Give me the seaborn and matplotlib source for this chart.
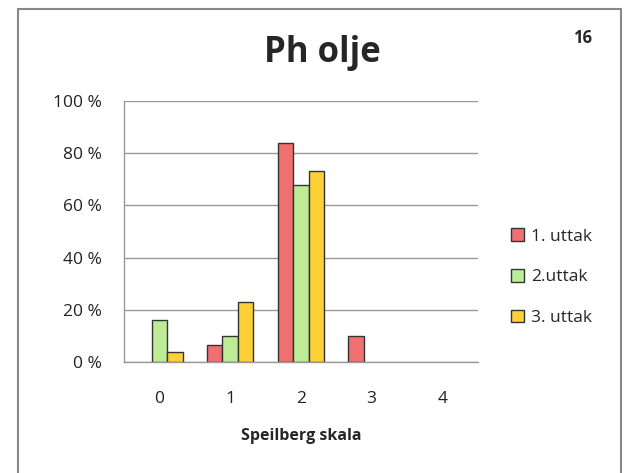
import numpy as np
import pandas as pd
import seaborn as sns
import matplotlib.pyplot as plt
from matplotlib.patches import Rectangle
from matplotlib.ticker import FixedLocator

# chart data
categories = ['0', '1', '2', '3', '4']
series_names = ['1. uttak', '2.uttak', '3. uttak']
uttak_1 = [0.0, 6.5, 83.9, 9.7, 0.0]
uttak_2 = [16.1, 9.7, 67.7, 0.0, 0.0]
uttak_3 = [3.8, 23.1, 73.1, 0.0, 0.0]
y_ticks = [0, 20, 40, 60, 80, 100]
y_tick_labels = ['0 %', '20 %', '40 %', '60 %', '80 %', '100 %']
colors = ['#F07072', '#BDEB96', '#FDD037']

df = pd.DataFrame({
    'Speilberg skala': categories * 3,
    'value': uttak_1 + uttak_2 + uttak_3,
    'serie': [s for s in series_names for _ in categories],
})

sns.set_theme(style='white')
plt.rcParams['font.family'] = ['Open Sans', 'DejaVu Sans']

fig = plt.figure(figsize=(6.3, 4.73), dpi=100)
ax = fig.add_axes([0.1968, 0.2353, 0.5615, 0.5505])

sns.barplot(data=df, x='Speilberg skala', y='value', hue='serie',
            palette=colors, saturation=1, width=0.66, gap=0, edgecolor='#333333',
            linewidth=1, ax=ax, legend=True)

handles, labels = ax.get_legend_handles_labels()
ax.legend_.remove()

# empty bars get no outline
for bar in ax.containers:
    for rect in bar:
        if rect.get_height() == 0:
            rect.set_linewidth(0)

ax.set_ylim(0, 100)
ax.set_xlim(-0.5, len(categories) - 0.5)
ax.set_yticks(y_ticks)
ax.set_yticklabels(y_tick_labels, fontsize=12.5, color='#222222')
ax.set_xticks(range(len(categories)))
ax.set_xticklabels(categories, fontsize=12.5, color='#222222')
ax.xaxis.set_minor_locator(FixedLocator(np.arange(-0.5, len(categories), 1)))
ax.tick_params(axis='x', which='major', length=0, pad=21)
ax.tick_params(axis='x', which='minor', length=6, color='#999999', width=1, direction='out')
ax.tick_params(axis='y', length=8, color='#999999', width=1, direction='out', pad=8)
ax.yaxis.grid(True, color='#999999', linewidth=1)
ax.set_axisbelow(True)
for side in ['top', 'right']:
    ax.spines[side].set_visible(False)
for side in ['left', 'bottom']:
    ax.spines[side].set_color('#999999')
    ax.spines[side].set_linewidth(1)
ax.set_ylabel('')
ax.set_xlabel('Speilberg skala', fontsize=11.5, fontweight='bold', labelpad=15)

for h in handles:
    h.set_edgecolor('#333333')
    h.set_linewidth(1)
fig.legend(handles, labels, loc='center left', bbox_to_anchor=(0.787, 0.414),
           frameon=False, fontsize=12.5, handlelength=0.75, handleheight=0.75,
           handletextpad=0.4, labelspacing=1.4)

fig.text(0.511, 0.888, 'Ph olje', ha='center', va='center', fontsize=25, fontweight='bold')
fig.text(0.925, 0.92, '16', ha='center', va='center', fontsize=12, fontweight='bold')

# outer frame
fig.patches.append(Rectangle((0.028, -0.05), 0.958, 1.03, transform=fig.transFigure,
                             fill=False, edgecolor='#888888', linewidth=1.5))

fig.savefig('out.png', dpi=100)
